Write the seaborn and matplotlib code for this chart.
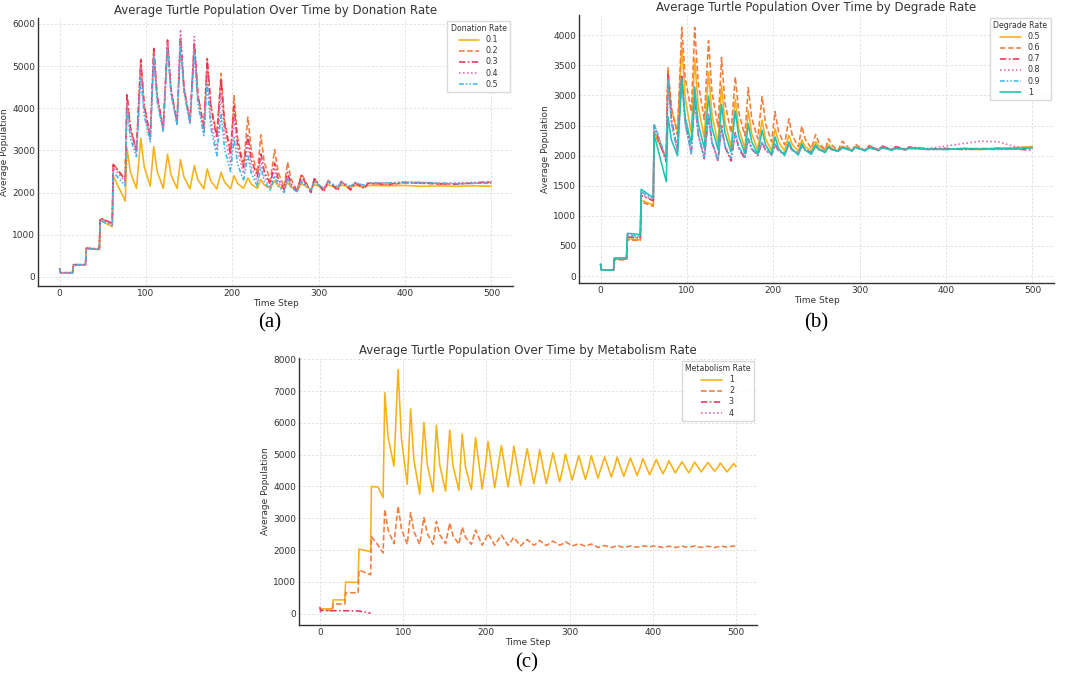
import numpy as np
import pandas as pd
import matplotlib
matplotlib.use("Agg")
import matplotlib.pyplot as plt
import seaborn as sns

"""Time steps sampled at the steps, peaks, shoulders and troughs of the curves"""
steps_ab = [0, 1, 15, 16, 30, 31, 46, 47, 61, 62, 76, 78,
            82, 89, 94, 98, 105, 109, 113, 120, 125, 129, 136, 140,
            144, 151, 156, 160, 167, 171, 175, 182, 187, 191, 198, 202,
            206, 213, 218, 222, 229, 233, 237, 244, 249, 253, 260, 264,
            268, 275, 280,
            291, 295, 306, 311, 322, 326, 337, 342, 353, 357,
            380, 400, 420, 440, 460, 480, 500]

steps_c = [0, 1, 15, 16, 30, 31, 46, 47, 61, 62, 70, 76, 78,
           82, 89, 94, 98, 105, 109, 113, 120, 125, 129, 136, 140,
           144, 151, 156, 160, 167, 171, 175, 182, 187,
           191, 195, 199, 202, 206, 210, 214, 218, 222, 226, 230, 233,
           237, 241, 245, 249, 253, 257, 261, 264, 268, 272, 276, 280,
           284, 288, 292, 295, 299, 303, 307, 311, 315, 319, 323, 326,
           330, 334, 338, 342, 346, 350, 354, 357, 361, 365, 369, 373,
           377, 381, 385, 388, 392, 396, 400, 404, 408, 412, 416, 419,
           423, 427, 431, 435, 439, 443, 447, 450, 454, 458, 462, 466,
           470, 474, 478, 481, 485, 489, 493, 497,
           500]

"""(a) Donation rate"""
donation_labels = ["0.1", "0.2", "0.3", "0.4", "0.5"]
don_01 = [200, 100, 100, 290, 290, 680, 650, 1340, 1190, 2400, 1800, 3060,
          2480, 2100, 3290, 2610, 2150, 3090, 2500, 2100, 2910, 2420, 2100, 2780,
          2370, 2090, 2640, 2310, 2090, 2560, 2280, 2090, 2480, 2250, 2090, 2400,
          2220, 2100, 2350, 2200, 2100, 2310, 2180, 2100, 2280, 2160, 2080, 2240,
          2130, 2050, 2210,
          2080, 2190, 2100, 2180, 2120, 2180, 2120, 2170, 2130, 2170,
          2160, 2170, 2150, 2160, 2150, 2160, 2150]
don_02 = [200, 100, 100, 290, 290, 680, 660, 1390, 1260, 2680, 2320, 4300,
          3520, 3000, 5150, 4050, 3320, 5400, 4270, 3520, 5600, 4430, 3650, 5650,
          4470, 3680, 5500, 4330, 3550, 5180, 4100, 3380, 4830, 3700, 2950, 4300,
          3310, 2650, 3790, 2990, 2450, 3370, 2720, 2280, 3020, 2490, 2130, 2720,
          2320, 2050, 2450,
          2020, 2330, 2040, 2290, 2060, 2260, 2080, 2230, 2100, 2220,
          2180, 2230, 2220, 2200, 2210, 2220, 2240]
don_03 = [200, 100, 100, 290, 290, 680, 670, 1400, 1270, 2670, 2300, 4350,
          3540, 3000, 5160, 4060, 3330, 5420, 4290, 3530, 5620, 4440, 3660, 5690,
          4480, 3680, 5560, 4340, 3520, 5160, 4040, 3300, 4700, 3620, 2900, 4050,
          3180, 2600, 3350, 2770, 2380, 2950, 2500, 2200, 2700, 2330, 2080, 2480,
          2210, 2030, 2400,
          2000, 2330, 2020, 2280, 2050, 2260, 2060, 2230, 2100, 2220,
          2200, 2240, 2230, 2210, 2200, 2230, 2260]
don_04 = [200, 100, 100, 290, 290, 670, 660, 1370, 1240, 2600, 2250, 4150,
          3430, 2950, 4980, 3940, 3250, 5300, 4210, 3480, 5560, 4400, 3620, 5870,
          4540, 3650, 5700, 4320, 3400, 4900, 3760, 3000, 4350, 3360, 2700, 3800,
          2990, 2450, 3150, 2610, 2250, 2800, 2390, 2120, 2550, 2250, 2050, 2380,
          2170, 2030, 2280,
          2050, 2260, 2100, 2260, 2130, 2240, 2150, 2230, 2170, 2230,
          2230, 2240, 2240, 2220, 2230, 2240, 2250]
don_05 = [200, 100, 100, 290, 290, 670, 650, 1340, 1220, 2490, 2160, 3960,
          3290, 2850, 4750, 3820, 3200, 5200, 4150, 3450, 5430, 4340, 3620, 5500,
          4370, 3620, 5300, 4130, 3350, 4600, 3560, 2870, 3850, 3040, 2500, 3300,
          2690, 2280, 2900, 2450, 2150, 2600, 2270, 2050, 2400, 2160, 2000, 2320,
          2130, 2010, 2260,
          2060, 2250, 2100, 2250, 2130, 2250, 2150, 2240, 2170, 2230,
          2230, 2250, 2240, 2230, 2210, 2220, 2220]

"""(b) Degrade rate"""
degrade_labels = ["0.5", "0.6", "0.7", "0.8", "0.9", "1"]
deg_05 = [200, 100, 100, 280, 280, 620, 600, 1260, 1180, 2400, 1950, 3350,
          2780, 2400, 3810, 2950, 2380, 3610, 2820, 2300, 3390, 2680, 2200, 3170,
          2560, 2150, 2940, 2450, 2120, 2750, 2360, 2100, 2590, 2280, 2080, 2450,
          2230, 2080, 2340, 2180, 2080, 2260, 2150, 2080, 2230, 2150, 2090, 2180,
          2120, 2080, 2160,
          2080, 2150, 2090, 2140, 2090, 2140, 2100, 2130, 2100, 2130,
          2110, 2110, 2110, 2100, 2120, 2130, 2150]
deg_06 = [200, 100, 100, 270, 270, 600, 590, 1230, 1160, 2380, 1950, 3460,
          2790, 2350, 4130, 3290, 2730, 4130, 3210, 2600, 3910, 3050, 2480, 3630,
          2880, 2380, 3310, 2720, 2330, 3130, 2620, 2280, 2980, 2530, 2230, 2730,
          2400, 2180, 2610, 2330, 2150, 2490, 2270, 2120, 2350, 2200, 2100, 2280,
          2170, 2090, 2240,
          2070, 2190, 2080, 2170, 2080, 2160, 2090, 2150, 2090, 2140,
          2100, 2110, 2110, 2120, 2110, 2130, 2140]
deg_07 = [200, 100, 100, 290, 290, 650, 630, 1340, 1250, 2500, 1900, 3350,
          2600, 2100, 3340, 2570, 2050, 2980, 2360, 1950, 2680, 2220, 1910, 2500,
          2150, 1910, 2380, 2120, 1950, 2280, 2110, 2000, 2220, 2090, 2010, 2180,
          2080, 2020, 2170, 2090, 2040, 2150, 2090, 2050, 2150, 2100, 2070, 2140,
          2100, 2080, 2130,
          2080, 2140, 2090, 2150, 2100, 2160, 2100, 2150, 2100, 2140,
          2110, 2120, 2100, 2110, 2120, 2110, 2090]
deg_08 = [200, 100, 100, 290, 290, 660, 640, 1360, 1260, 2520, 1920, 3300,
          2570, 2080, 3300, 2530, 2020, 2950, 2360, 1970, 2650, 2220, 1930, 2480,
          2160, 1940, 2370, 2140, 1980, 2270, 2110, 2010, 2230, 2100, 2020, 2190,
          2090, 2030, 2170, 2090, 2040, 2160, 2100, 2060, 2150, 2100, 2070, 2140,
          2100, 2080, 2140,
          2090, 2140, 2090, 2150, 2100, 2150, 2100, 2150, 2110, 2140,
          2120, 2160, 2200, 2240, 2230, 2150, 2120]
deg_09 = [200, 100, 100, 290, 290, 680, 660, 1400, 1280, 2530, 1950, 3250,
          2540, 2060, 3280, 2530, 2030, 2920, 2350, 1970, 2660, 2220, 1930, 2470,
          2160, 1960, 2360, 2140, 1990, 2270, 2120, 2020, 2220, 2110, 2030, 2190,
          2100, 2040, 2170, 2100, 2050, 2160, 2100, 2060, 2150, 2100, 2070, 2140,
          2100, 2080, 2140,
          2090, 2130, 2090, 2130, 2090, 2130, 2100, 2120, 2100, 2120,
          2100, 2110, 2120, 2110, 2100, 2110, 2120]
deg_10 = [200, 100, 100, 300, 300, 710, 690, 1440, 1300, 2350, 1570, 2650,
          2260, 2000, 3280, 2630, 2200, 3140, 2530, 2130, 2990, 2460, 2100, 2850,
          2380, 2060, 2740, 2320, 2040, 2530, 2230, 2030, 2420, 2180, 2020, 2310,
          2120, 2000, 2230, 2100, 2010, 2200, 2090, 2020, 2180, 2100, 2050, 2150,
          2100, 2070, 2130,
          2080, 2140, 2080, 2130, 2090, 2130, 2090, 2120, 2100, 2120,
          2110, 2100, 2120, 2110, 2120, 2110, 2130]

"""(c) Metabolism rate"""
metabolism_labels = ["1", "2", "3", "4"]
met_1 = [200, 150, 150, 430, 430, 990, 980, 2030, 1950, 4000, 3980, 3650, 6950,
         5560, 4640, 7680, 5510, 4070, 6440, 4830, 3760, 6020, 4710, 3830, 5930,
         4680, 3850, 5770, 4640, 3880, 5650, 4600, 3900, 5540,
         4730, 3920, 4670, 5420, 4690, 3960, 4620, 5290, 4640, 3990, 4630, 5270,
         4660, 4040, 4620, 5190, 4640, 4090, 4620, 5160, 4620, 4090, 4580, 5060,
         4600, 4150, 4590, 5020, 4610, 4200, 4590, 4970, 4600, 4220, 4600, 4970,
         4620, 4260, 4600, 4930, 4620, 4300, 4620, 4930, 4620, 4320, 4610, 4900,
         4620, 4350, 4620, 4880, 4620, 4370, 4610, 4850, 4620, 4400, 4600, 4810,
         4620, 4430, 4600, 4780, 4600, 4430, 4600, 4770, 4620, 4460, 4610, 4760,
         4620, 4480, 4610, 4740, 4600, 4460, 4590, 4720,
         4620]
met_2 = [200, 100, 100, 300, 300, 660, 650, 1370, 1220, 2420, 2150, 1910, 3280,
         2630, 2200, 3380, 2660, 2180, 3180, 2580, 2180, 3020, 2520, 2180, 2900,
         2480, 2200, 2850, 2450, 2180, 2720, 2400, 2180, 2630,
         2390, 2150, 2340, 2520, 2340, 2150, 2310, 2470, 2310, 2150, 2280, 2400,
         2260, 2130, 2230, 2330, 2240, 2150, 2220, 2300, 2220, 2140, 2210, 2280,
         2220, 2150, 2200, 2260, 2200, 2130, 2160, 2200, 2160, 2120, 2160, 2190,
         2140, 2080, 2110, 2140, 2110, 2080, 2110, 2140, 2110, 2080, 2100, 2130,
         2110, 2090, 2110, 2130, 2120, 2100, 2120, 2130, 2100, 2080, 2100, 2120,
         2100, 2080, 2100, 2120, 2100, 2090, 2110, 2130, 2100, 2080, 2100, 2120,
         2100, 2080, 2100, 2130, 2110, 2090, 2110, 2130,
         2100]
met_3 = [200, 100, 90, 90, 90, 90, 80, 80, 10]
met_4 = [200, 0]

colors = {
    "yellow": "#f7b114", "orange": "#f17c3d", "red": "#e8345a",
    "pink": "#e266b6", "blue": "#41b6e6", "teal": "#22c2b2",
}
dash_solid = ""
dash_dash = (3.5, 1.6)
dash_dot = (4, 1.5, 1, 1.5)
dash_dotted = (1, 1.5)
dash_dotdot = (3, 1.2, 1, 1.2, 1, 1.2)


def long_frame(steps, series, col):
    parts = []
    for name, vals in series.items():
        vals = list(vals) + [np.nan] * (len(steps) - len(vals))
        parts.append(pd.DataFrame({"Time Step": steps,
                                   "Average Population": vals,
                                   col: name}))
    return pd.concat(parts).dropna()


df_a = long_frame(steps_ab, dict(zip(donation_labels,
                  [don_01, don_02, don_03, don_04, don_05])), "Donation Rate")
df_b = long_frame(steps_ab, dict(zip(degrade_labels,
                  [deg_05, deg_06, deg_07, deg_08, deg_09, deg_10])), "Degrade Rate")
df_c = long_frame(steps_c, dict(zip(metabolism_labels,
                  [met_1, met_2, met_3, met_4])), "Metabolism Rate")

sns.set_theme(style="whitegrid")
plt.rcParams.update({
    "font.family": ["DejaVu Sans"],
    "axes.edgecolor": "#333333",
    "axes.linewidth": 1.0,
    "grid.color": "#dedede",
    "grid.linestyle": (0, (3, 2)),
    "grid.linewidth": 0.6,
    "xtick.labelsize": 6.5,
    "ytick.labelsize": 6.5,
    "axes.labelsize": 6.5,
    "axes.titlesize": 8.5,
    "text.color": "#333333",
    "axes.labelcolor": "#333333",
    "xtick.color": "#333333",
    "ytick.color": "#333333",
})

W, H = 1065, 676
fig = plt.figure(figsize=(W / 100, H / 100), dpi=100)


def box(left, top, right, bottom):
    return [left / W, 1 - bottom / H, (right - left) / W, (bottom - top) / H]


panels = [
    (df_a, "Donation Rate", donation_labels,
     ["yellow", "orange", "red", "pink", "blue"],
     [dash_solid, dash_dash, dash_dot, dash_dotted, dash_dotdot],
     box(38, 18, 513, 286), (-215, 6140), range(0, 6001, 1000),
     "(a)", (270, 323)),
    (df_b, "Degrade Rate", degrade_labels,
     ["yellow", "orange", "red", "pink", "blue", "teal"],
     [dash_solid, dash_dash, dash_dot, dash_dotted, dash_dotdot, dash_solid],
     box(579, 15, 1054, 283), (-115, 4335), range(0, 4001, 500),
     "(b)", (816, 323)),
    (df_c, "Metabolism Rate", metabolism_labels,
     ["yellow", "orange", "red", "pink"],
     [dash_solid, dash_dash, dash_dot, dash_dotted],
     box(299, 358, 757, 625), (-360, 8045), range(0, 8001, 1000),
     "(c)", (527, 663)),
]

for df, col, labels, cnames, dashes, rect, ylim, yticks, tag, tagpos in panels:
    ax = fig.add_axes(rect)
    sns.lineplot(data=df, x="Time Step", y="Average Population",
                 hue=col, style=col, hue_order=labels, style_order=labels,
                 palette=dict(zip(labels, [colors[c] for c in cnames])),
                 dashes=dict(zip(labels, dashes)),
                 estimator=None, sort=False, linewidth=1.15, ax=ax)
    ax.set_xlim(-25, 525)
    ax.set_ylim(*ylim)
    ax.set_xticks(range(0, 501, 100))
    ax.set_yticks(list(yticks))
    ax.set_title(f"Average Turtle Population Over Time by {col}", pad=3)
    ax.set_xlabel("Time Step", labelpad=1)
    ax.set_ylabel("Average Population", labelpad=2)
    ax.tick_params(axis="both", length=0, pad=2)
    sns.despine(ax=ax)
    sns.move_legend(ax, "upper right", title=col, fontsize=5.8,
                    title_fontsize=5.6, frameon=True, borderaxespad=0.4,
                    handlelength=2.6, labelspacing=0.25, borderpad=0.4,
                    edgecolor="#d0d0d0", fancybox=False)
    fig.text(tagpos[0] / W, 1 - tagpos[1] / H, tag, family="Liberation Serif",
             fontsize=15, ha="center", va="center", color="black")

fig.savefig("out.png", dpi=100)
